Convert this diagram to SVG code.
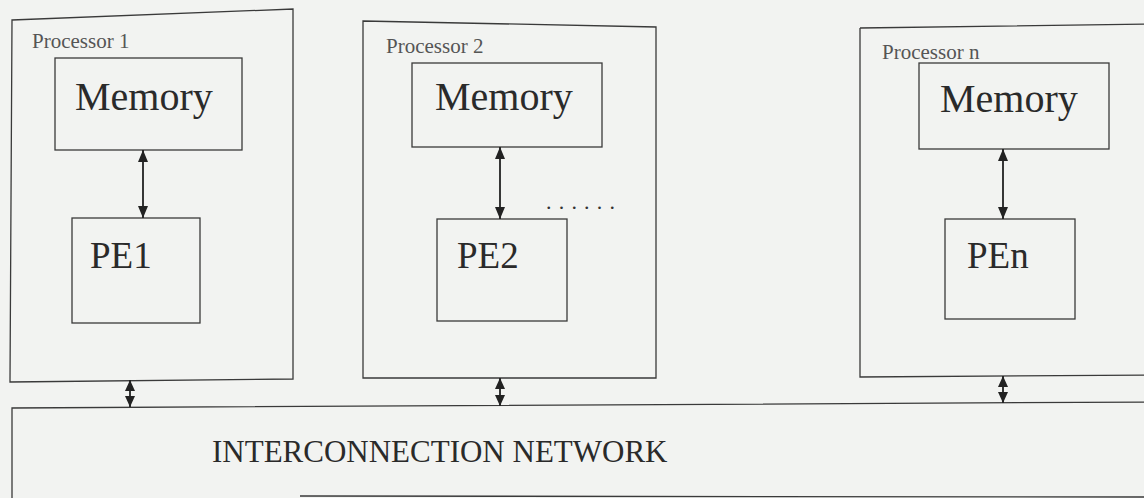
<svg xmlns="http://www.w3.org/2000/svg" width="1144" height="498" viewBox="0 0 1144 498">
<defs>
<marker id="ah" viewBox="0 0 12 10" refX="12" refY="5" markerWidth="12" markerHeight="10" markerUnits="userSpaceOnUse" orient="auto-start-reverse">
<path d="M0,0 L12,5 L0,10 z" fill="#222"/>
</marker>
<marker id="ahs" viewBox="0 0 11 10" refX="11" refY="5" markerWidth="11" markerHeight="10" markerUnits="userSpaceOnUse" orient="auto-start-reverse">
<path d="M0,0 L11,5 L0,10 z" fill="#222"/>
</marker>
</defs>
<style>
.box{fill:none;stroke:#3a3a3a;stroke-width:1.3}
.big{font-family:"Liberation Serif",serif;font-size:40px;fill:#2a2a2a}
.pe{font-family:"Liberation Serif",serif;font-size:37px;fill:#2a2a2a}
.lbl{font-family:"Liberation Serif",serif;font-size:21px;fill:#555}
.net{font-family:"Liberation Serif",serif;font-size:31px;fill:#2a2a2a}
.conn{stroke:#222;stroke-width:1.8;fill:none}
</style>
<rect x="0" y="0" width="1144" height="498" fill="#f2f3f1"/>
<g id="processor1">
<path class="box" d="M12,20 L293,9 L293,379 L10,382 Z"/>
<text class="lbl" x="32" y="48">Processor 1</text>
<g id="memory1"><rect class="box" x="55" y="58" width="187" height="92"/><text class="big" x="75" y="110">Memory</text></g>
<g id="pe1"><rect class="box" x="72" y="218" width="128" height="105"/><text class="pe" x="90" y="268">PE1</text></g>
</g>
<g id="processor2">
<path class="box" d="M363,21 L656,27 L656,378 L363,378 Z"/>
<text class="lbl" x="386" y="53">Processor 2</text>
<g id="memory2"><rect class="box" x="412" y="63" width="190" height="84"/><text class="big" x="435" y="110">Memory</text></g>
<g id="pe2"><rect class="box" x="437" y="219" width="130" height="102"/><text class="pe" x="457" y="268">PE2</text></g>
</g>
<text id="ellipsis" x="546" y="209" font-family="Liberation Serif, serif" font-size="22" fill="#333" letter-spacing="7.2">......</text>
<g id="processorn">
<path class="box" d="M860,28 L1150,24 M860,28 L860,377 L1150,375"/>
<text class="lbl" x="882" y="59">Processor n</text>
<g id="memoryn"><rect class="box" x="919" y="63" width="190" height="86"/><text class="big" x="940" y="112">Memory</text></g>
<g id="pen"><rect class="box" x="945" y="219" width="130" height="100"/><text class="pe" x="967" y="268">PEn</text></g>
</g>
<g id="network">
<path class="box" d="M12,500 L12,408 L1150,402 M1150,497 L300,496"/>
<text class="net" x="212" y="462">INTERCONNECTION NETWORK</text>
</g>
<g id="connectors">
<line class="conn" x1="143" y1="150" x2="143" y2="218" marker-start="url(#ah)" marker-end="url(#ah)"/>
<line class="conn" x1="500" y1="147" x2="500" y2="219" marker-start="url(#ah)" marker-end="url(#ah)"/>
<line class="conn" x1="1003" y1="149" x2="1003" y2="219" marker-start="url(#ah)" marker-end="url(#ah)"/>
<line class="conn" x1="130" y1="380" x2="130" y2="407" marker-start="url(#ahs)" marker-end="url(#ahs)"/>
<line class="conn" x1="500" y1="378" x2="500" y2="406" marker-start="url(#ahs)" marker-end="url(#ahs)"/>
<line class="conn" x1="1003" y1="376" x2="1003" y2="403" marker-start="url(#ahs)" marker-end="url(#ahs)"/>
</g>
</svg>
